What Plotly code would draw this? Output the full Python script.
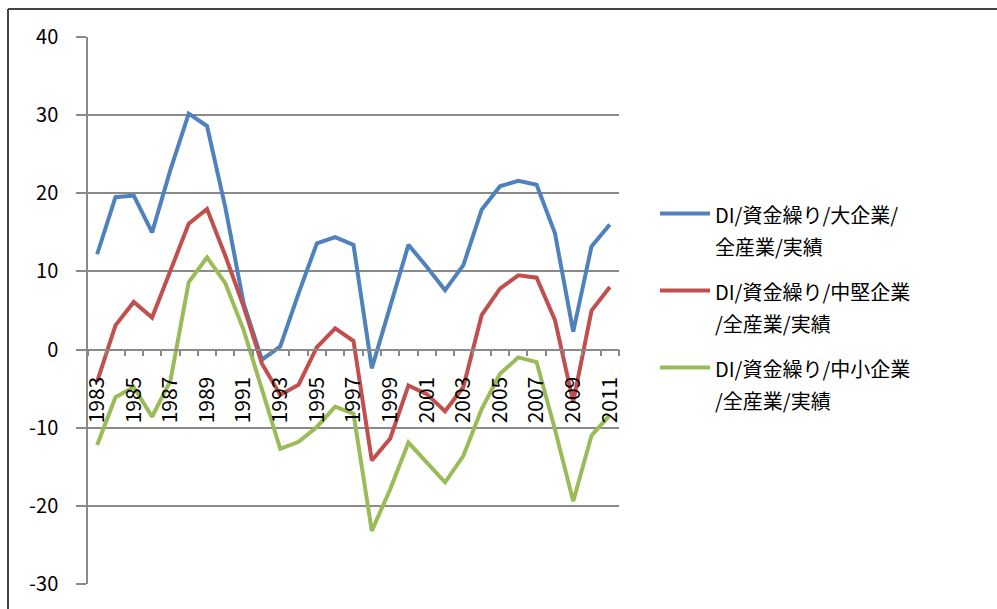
import plotly.graph_objects as go

years = list(range(1983, 2012))
large = [12.2, 19.5, 19.7, 15.0, 23.0, 30.2, 28.6, 18.2, 5.9, -1.3, 0.4, 7.2, 13.6, 14.4, 13.4,
         -2.4, 5.5, 13.4, 10.6, 7.6, 10.8, 17.9, 20.9, 21.6, 21.1, 14.9, 2.3, 13.2, 16.0]
mid = [-4.1, 3.1, 6.1, 4.1, 10.1, 16.1, 18.0, 12.0, 5.5, -1.8, -5.8, -4.5, 0.3, 2.7, 1.1,
       -14.2, -11.4, -4.6, -5.7, -7.9, -4.8, 4.4, 7.8, 9.5, 9.2, 3.8, -6.7, 5.0, 8.0]
small = [-12.2, -6.1, -4.8, -8.6, -4.0, 8.6, 11.8, 8.5, 2.5, -5.2, -12.7, -11.8, -9.9, -7.3, -8.2,
         -23.2, -17.9, -11.9, -14.4, -17.0, -13.6, -7.6, -3.1, -1.0, -1.6, -10.2, -19.4, -11.0, -8.4]
names = ["DI/資金繰り/大企業/<br>全産業/実績",
         "DI/資金繰り/中堅企業<br>/全産業/実績",
         "DI/資金繰り/中小企業<br>/全産業/実績"]
colors = ["#4F81BD", "#C0504D", "#9BBB59"]
tick_years = list(range(1983, 2012, 2))
tick_labels = [str(y) for y in tick_years]
y_ticks = [-30, -20, -10, 0, 10, 20, 30, 40]
y_labels = [str(v) for v in y_ticks]

FONT = "Noto Sans CJK JP"
GRID = "#8a8a8a"


def legend_label(s):
    # glyphs at 20px inside a 24.6px legend font -> ~32px line spacing like the original
    return "<br>".join('<span style="font-size:20px">%s</span>' % part for part in s.split("<br>"))


fig = go.Figure()
for i, (vals, nm, col) in enumerate(zip([large, mid, small], names, colors)):
    fig.add_trace(go.Scatter(x=years, y=vals, mode="lines", name=legend_label(nm),
                             legendgroup=str(i), line=dict(color=col, width=4)))

W, H = 997, 609
L, R, T, B = 88, 378, 37, 25
pw, ph = W - L - R, H - T - B

fig.update_layout(
    width=W, height=H,
    margin=dict(l=L, r=R, t=T, b=B, pad=0),
    paper_bgcolor="white", plot_bgcolor="white",
    font=dict(family=FONT, size=19, color="black"),
    showlegend=True,
    legend=dict(x=(655 - L) / pw, y=(584 - 191) / ph, xanchor="left", yanchor="top",
                font=dict(family=FONT, size=24.6, color="black"),
                valign="top", tracegroupgap=10, itemwidth=50,
                bgcolor="rgba(0,0,0,0)"),
    xaxis=dict(range=[1982.5, 2011.5], anchor="free", position=30 / 70,
               showline=True, linecolor=GRID, linewidth=1.5,
               showgrid=False, zeroline=False,
               tickmode="array", tickvals=tick_years, ticktext=tick_labels,
               tickangle=-90, ticks="", ticklabelstandoff=18,
               tickfont=dict(family=FONT, size=21, color="black"),
               minor=dict(ticks="outside", ticklen=6, tickcolor=GRID, tickwidth=1.5,
                          tick0=1982.5, dtick=1, showgrid=False)),
    yaxis=dict(range=[-30, 40], tickmode="array", tickvals=y_ticks, ticktext=y_labels,
               showline=True, linecolor=GRID, linewidth=1.5,
               showgrid=True, gridcolor=GRID, gridwidth=1.5, zeroline=False,
               ticks="outside", ticklen=10, tickcolor=GRID, tickwidth=1.5,
               ticklabelstandoff=14,
               tickfont=dict(family=FONT, size=20, color="black")),
)

# chart-area border (top and left edges visible in the crop)
bx = (8 - L) / pw
by = (584 - 9) / ph
fig.add_shape(type="line", xref="paper", yref="paper", x0=bx, x1=bx, y0=-0.2, y1=by,
              line=dict(color="#444444", width=2))
fig.add_shape(type="line", xref="paper", yref="paper", x0=bx, x1=2.0, y0=by, y1=by,
              line=dict(color="#444444", width=2))

fig.write_html("out.html")
